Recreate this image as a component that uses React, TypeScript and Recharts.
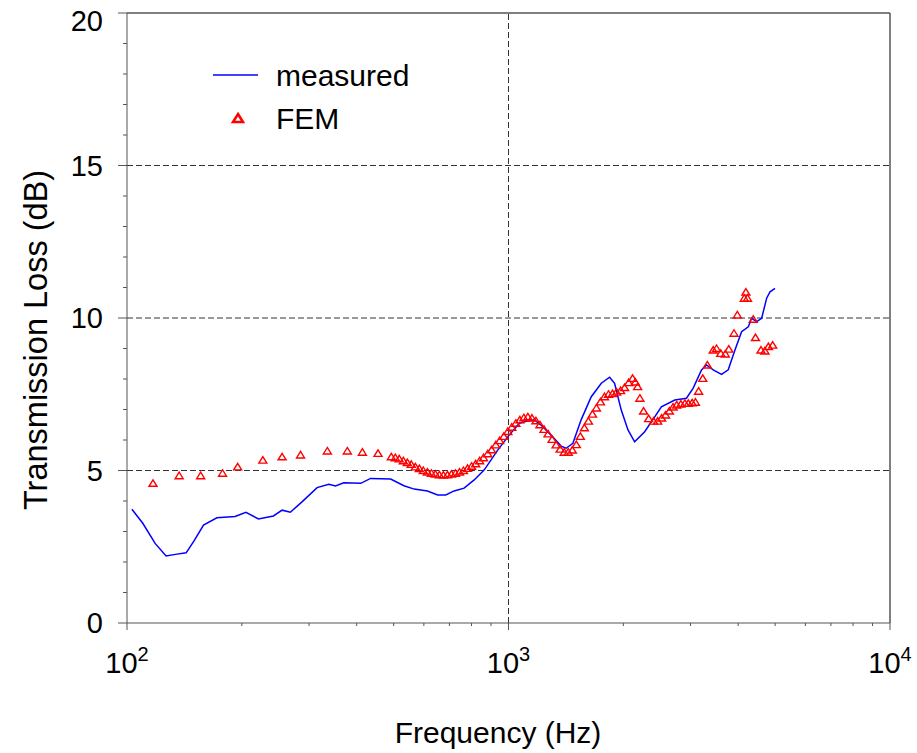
import {
  ComposedChart,
  Line,
  Scatter,
  XAxis,
  YAxis,
  ReferenceLine,
  Legend,
} from "recharts";

// measured transmission loss (blue line)
const measuredFreq = [
  103, 110, 118.5, 126.6, 134, 142.9, 150, 158.7, 172, 192, 205, 221, 242, 255,
  268, 288, 315, 338, 352, 370, 410, 435, 491, 532, 566, 613, 652, 685, 720,
  765, 813, 864, 937, 1004, 1068, 1100, 1169, 1217, 1293, 1374, 1416, 1475,
  1550, 1648, 1751, 1841, 1897, 1975, 2057, 2141, 2275, 2417, 2516, 2728, 2927,
  3049, 3206, 3304, 3440, 3618, 3767, 3923, 4083, 4252, 4338, 4472, 4609, 4750,
  4848, 4996,
];
const measuredTL = [
  3.73, 3.27, 2.61, 2.2, 2.25, 2.3, 2.7, 3.21, 3.45, 3.49, 3.63, 3.41, 3.51,
  3.7, 3.63, 3.98, 4.44, 4.55, 4.49, 4.6, 4.58, 4.74, 4.72, 4.5, 4.39, 4.33,
  4.2, 4.2, 4.33, 4.42, 4.69, 5.02, 5.67, 6.16, 6.55, 6.6, 6.66, 6.49, 6.16,
  5.8, 5.73, 5.89, 6.66, 7.42, 7.86, 8.06, 7.86, 6.98, 6.33, 5.94, 6.27, 6.76,
  7.09, 7.31, 7.37, 7.7, 8.3, 8.46, 8.3, 8.15, 8.3, 8.95, 9.55, 9.71, 9.99,
  9.88, 9.99, 10.65, 10.86, 10.97,
];

// FEM prediction (red triangles)
const femFreq = [
  117, 137, 156, 178, 195, 227, 255, 285, 335, 378, 414, 455, 493, 505, 517,
  530, 543, 556, 570, 584, 598, 613, 628, 643, 659, 675, 692, 709, 726, 744,
  762, 781, 800, 820, 840, 860, 882, 903, 926, 948, 972, 996, 1020, 1045, 1071,
  1097, 1124, 1152, 1180, 1209, 1239, 1270, 1301, 1333, 1366, 1400, 1434, 1470,
  1506, 1543, 1581, 1620, 1660, 1700, 1742, 1785, 1829, 1874, 1920, 1967, 2015,
  2065, 2115, 2150, 2180, 2210, 2260, 2330, 2400, 2460, 2520, 2580, 2640, 2700,
  2760, 2830, 2900, 2960, 3030, 3090, 3150, 3230, 3320, 3440, 3510, 3600, 3700,
  3780, 3900, 3980, 4150, 4190, 4230, 4380, 4440, 4590, 4700, 4800, 4925,
];
const femTL = [
  4.58, 4.83, 4.83, 4.91, 5.12, 5.34, 5.45, 5.51, 5.64, 5.64, 5.6, 5.56, 5.45,
  5.42, 5.38, 5.32, 5.26, 5.2, 5.12, 5.06, 5.0, 4.95, 4.91, 4.88, 4.86, 4.85,
  4.86, 4.88, 4.91, 4.95, 5.0, 5.07, 5.14, 5.22, 5.32, 5.42, 5.55, 5.68, 5.84,
  5.98, 6.12, 6.28, 6.42, 6.55, 6.66, 6.73, 6.76, 6.72, 6.63, 6.5, 6.35, 6.2,
  6.02, 5.84, 5.7, 5.6, 5.6, 5.67, 5.85, 6.12, 6.4, 6.62, 6.85, 7.05, 7.25,
  7.42, 7.5, 7.52, 7.57, 7.62, 7.72, 7.88, 8.02, 7.9, 7.75, 7.37, 6.95, 6.7,
  6.62, 6.62, 6.72, 6.82, 6.95, 7.08, 7.15, 7.18, 7.2, 7.2, 7.22, 7.24, 7.6,
  8.02, 8.46, 8.95, 9.0, 8.84, 8.82, 8.98, 9.5, 10.1, 10.65, 10.85, 10.65,
  9.96, 9.36, 8.95, 8.92, 9.06, 9.11,
];

const xTicks = [
  100, 200, 300, 400, 500, 600, 700, 800, 900, 1000, 2000, 3000, 4000, 5000,
  6000, 7000, 8000, 9000, 10000,
];
const xTickLabels: Record<number, string> = { 100: "2", 1000: "3", 10000: "4" };
const yTicks = [
  0, 1, 2, 3, 4, 5, 6, 7, 8, 9, 10, 11, 12, 13, 14, 15, 16, 17, 18, 19, 20,
];
const gridY = [5, 10, 15];

const measured = measuredFreq.map((f, i) => ({ f, tl: measuredTL[i] }));
const fem = femFreq.map((f, i) => ({ f, tl: femTL[i] }));

const FONT = "'Liberation Sans', Arial, sans-serif";
const AXIS = "#555";

const XTick = (props: any) => {
  const { x, y, payload } = props;
  const exp = xTickLabels[payload.value];
  return (
    <g>
      <line x1={x} y1={y} x2={x} y2={y + (exp ? 7 : 3)} stroke={AXIS} />
      {exp && (
        <text x={x} y={y + 50} textAnchor="middle" fontFamily={FONT} fontSize={29} fill="#000">
          10
          <tspan dy={-12} fontSize={20}>
            {exp}
          </tspan>
        </text>
      )}
    </g>
  );
};

const YTick = (props: any) => {
  const { x, y, payload } = props;
  const major = payload.value % 5 === 0;
  // top label sits a little lower in the original
  const shift = payload.value === 20 ? 8 : 0;
  return (
    <g>
      <line x1={x} y1={y} x2={x - (major ? 9 : 4)} y2={y} stroke={AXIS} />
      {major && (
        <text x={x - 24} y={y + 10 + shift} textAnchor="end" fontFamily={FONT} fontSize={29} fill="#000">
          {payload.value}
        </text>
      )}
    </g>
  );
};

const Triangle = (props: any) => {
  const { cx, cy } = props;
  if (cx == null || cy == null) return <g />;
  return (
    <path
      d={`M${cx},${cy - 3.5} L${cx + 4},${cy + 3} L${cx - 4},${cy + 3} Z`}
      fill="none"
      stroke="#ff0000"
      strokeWidth={1.4}
    />
  );
};

const LegendBox = () => (
  <svg width={240} height={80} style={{ display: "block" }}>
    <line x1={13} y1={20} x2={58} y2={20} stroke="#0000ff" strokeWidth={1.5} />
    <text x={76} y={31} fontFamily={FONT} fontSize={30} fill="#000">
      measured
    </text>
    <path d="M38,59 L43,67 L33,67 Z" fill="none" stroke="#ff0000" strokeWidth={2.5} />
    <text x={76} y={74} fontFamily={FONT} fontSize={30} fill="#000">
      FEM
    </text>
  </svg>
);

export default function App() {
  return (
    <div style={{ position: "absolute", left: 0, top: 0, background: "#fff" }}>
      <ComposedChart
        width={917}
        height={753}
        margin={{ top: 13, right: 27, bottom: 0, left: 0 }}
      >
        <XAxis
          dataKey="f"
          type="number"
          scale="log"
          domain={[100, 10000]}
          allowDataOverflow
          ticks={xTicks}
          interval={0}
          tick={XTick}
          tickSize={0}
          tickMargin={0}
          height={130}
          stroke={AXIS}
          label={{
            content: () => (
              <text x={498} y={743} textAnchor="middle" fontFamily={FONT} fontSize={30} fill="#000">
                Frequency (Hz)
              </text>
            ),
          }}
        />
        <YAxis
          type="number"
          domain={[0, 20]}
          ticks={yTicks}
          interval={0}
          tick={YTick}
          tickSize={0}
          tickMargin={0}
          width={127}
          stroke={AXIS}
          label={{
            content: () => (
              <text
                x={36}
                y={340}
                transform="rotate(-90 36 340)"
                textAnchor="middle"
                dominantBaseline="central"
                fontFamily={FONT}
                fontSize={32.5}
                fill="#000"
              >
                Transmission Loss (dB)
              </text>
            ),
          }}
        />
        {gridY.map((v) => (
          <ReferenceLine key={v} y={v} stroke="#333" strokeDasharray="6 3" />
        ))}
        <ReferenceLine x={1000} stroke="#333" strokeDasharray="6 3" />
        <ReferenceLine y={20} stroke={AXIS} strokeWidth={1.5} />
        <ReferenceLine x={10000} stroke={AXIS} strokeWidth={1.5} />
        <Legend
          layout="vertical"
          align="center"
          verticalAlign="middle"
          content={LegendBox}
          wrapperStyle={{ left: 200, top: 55, width: 240 }}
        />
        <Line
          data={measured}
          dataKey="tl"
          type="linear"
          stroke="#0000ff"
          strokeWidth={1.5}
          dot={false}
          isAnimationActive={false}
        />
        <Scatter
          data={fem}
          dataKey="tl"
          shape={Triangle}
          isAnimationActive={false}
        />
      </ComposedChart>
    </div>
  );
}
